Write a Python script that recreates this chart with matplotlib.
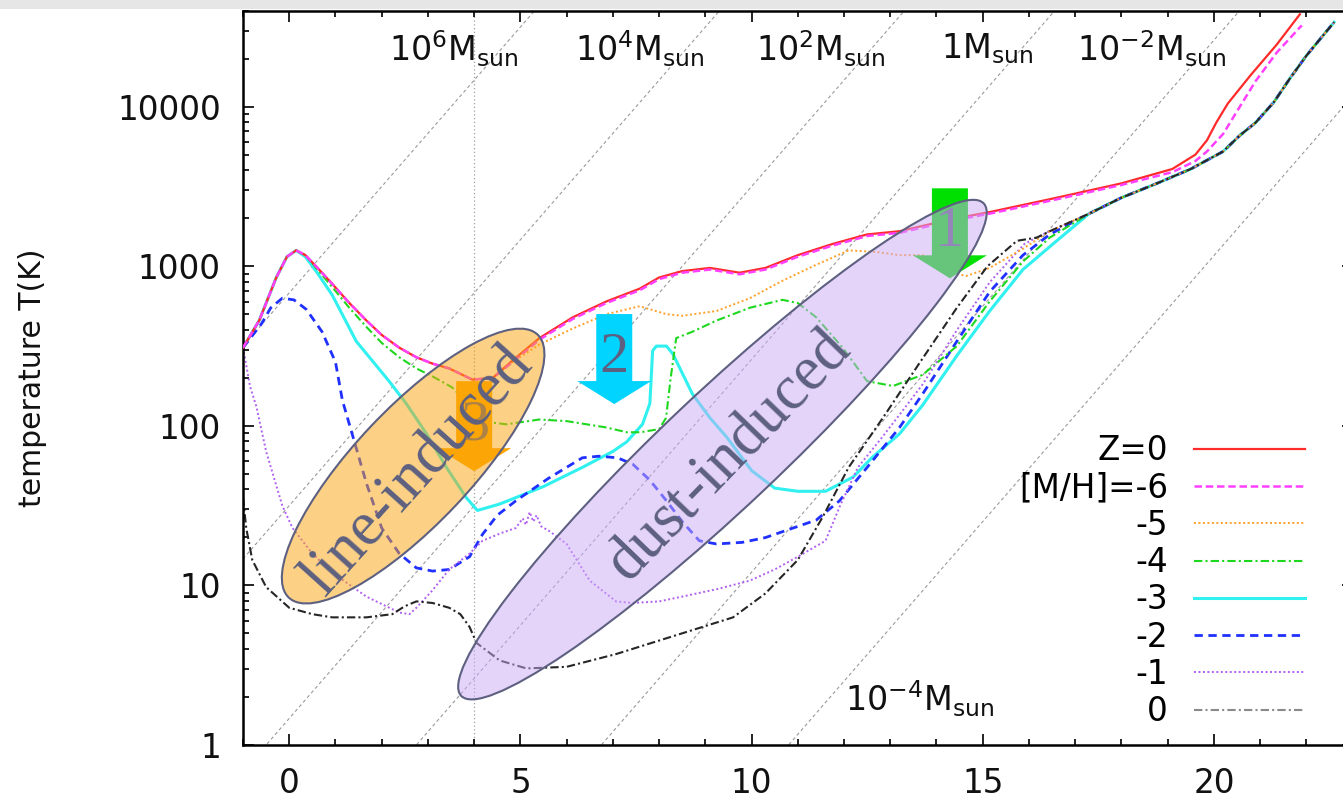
import numpy as np
import matplotlib.pyplot as plt
from matplotlib.patches import Ellipse, Polygon, Rectangle
from matplotlib.transforms import ScaledTranslation
from matplotlib.lines import Line2D
from matplotlib.ticker import MultipleLocator, LogLocator, NullFormatter

plt.rcParams['font.family'] = 'DejaVu Sans'

# log10 n_H (x) vs log10 T for each metallicity; shared high-density tail
x_tail = [17.3, 18.0, 18.77, 19.5, 20.2, 20.56, 20.9, 21.3, 21.65, 22.0, 22.37, 22.6]
lT_tail = [3.33, 3.43, 3.52, 3.61, 3.72, 3.82, 3.9, 4.03, 4.18, 4.32, 4.45, 4.53]

x_z0 = [-1.0, -0.65, -0.28, -0.05, 0.15, 0.35, 0.58, 0.93, 1.3, 1.67, 2.0, 2.38, 2.75, 3.1, 3.46,
        3.96, 4.4, 4.83, 5.41, 6.13, 6.86, 7.58, 8.0, 8.5, 9.1, 9.74, 10.3, 11.0, 11.75, 12.5,
        13.2, 14.4, 15.15, 16.6, 18.0, 19.1, 19.6, 19.85, 20.05, 20.3, 20.8, 21.36, 21.86]
lT_z0 = [2.49, 2.66, 2.93, 3.06, 3.1, 3.07, 3.0, 2.89, 2.77, 2.66, 2.57, 2.49, 2.43, 2.39, 2.36,
         2.29, 2.3, 2.41, 2.55, 2.68, 2.78, 2.86, 2.93, 2.97, 2.99, 2.96, 2.99, 3.07, 3.14, 3.2,
         3.22, 3.3, 3.34, 3.43, 3.52, 3.61, 3.7, 3.79, 3.9, 4.02, 4.2, 4.39, 4.58]

x_m6 = [-1.0, -0.65, -0.28, -0.05, 0.15, 0.35, 0.58, 0.93, 1.3, 1.67, 2.0, 2.38, 2.75, 3.1, 3.46,
        3.96, 4.4, 4.83, 5.41, 6.13, 6.86, 7.58, 8.0, 8.5, 9.1, 9.74, 10.3, 11.0, 11.75, 12.5,
        13.2, 14.4, 15.15, 16.6, 18.0, 19.1, 19.6, 19.85, 20.2, 20.56, 20.9, 21.36, 21.9]
lT_m6 = [2.49, 2.66, 2.93, 3.06, 3.1, 3.07, 3.0, 2.89, 2.77, 2.66, 2.57, 2.49, 2.43, 2.39, 2.36,
         2.29, 2.3, 2.4, 2.54, 2.67, 2.77, 2.85, 2.92, 2.96, 2.98, 2.95, 2.98, 3.06, 3.13, 3.19,
         3.21, 3.29, 3.33, 3.42, 3.51, 3.59, 3.66, 3.72, 3.83, 4.0, 4.16, 4.34, 4.51]

x_m5 = [-1.0, -0.65, -0.28, -0.05, 0.15, 0.35, 0.58, 0.93, 1.3, 1.67, 2.0, 2.38, 2.75, 3.1, 3.46,
        3.96, 4.4, 4.83, 5.41, 6.13, 6.86, 7.58, 8.16, 8.5, 9.24, 9.96, 10.67, 11.4, 12.1, 12.7,
        13.2, 13.7, 14.3, 14.65, 15.15, 15.87, 16.45] + x_tail
lT_m5 = [2.49, 2.66, 2.93, 3.06, 3.1, 3.07, 3.0, 2.89, 2.77, 2.66, 2.57, 2.49, 2.43, 2.39, 2.36,
         2.29, 2.3, 2.4, 2.51, 2.61, 2.7, 2.75, 2.7, 2.69, 2.72, 2.8, 2.91, 3.01, 3.1, 3.09,
         3.07, 3.07, 2.96, 2.94, 2.99, 3.11, 3.22] + lT_tail

x_m4 = [-1.0, -0.65, -0.28, -0.05, 0.15, 0.35, 0.58, 0.93, 1.3, 1.67, 2.0, 2.38, 2.75, 3.1, 3.53,
        3.96, 4.4, 4.7, 5.41, 6.0, 6.86, 7.3, 7.6, 8.0, 8.15, 8.25, 8.37, 8.72, 9.24, 9.96, 10.67,
        11.0, 11.4, 11.97, 12.5, 13.06, 13.7, 14.44, 15.15, 15.87, 16.45] + x_tail
lT_m4 = [2.49, 2.66, 2.93, 3.06, 3.1, 3.07, 2.99, 2.87, 2.74, 2.62, 2.52, 2.43, 2.36, 2.31, 2.24,
         2.11, 2.02, 2.01, 2.04, 2.03, 1.99, 1.96, 1.96, 1.98, 2.05, 2.3, 2.55, 2.59, 2.66, 2.74,
         2.79, 2.77, 2.68, 2.49, 2.28, 2.25, 2.32, 2.5, 2.78, 3.03, 3.18] + lT_tail

x_m3 = [-1.0, -0.65, -0.28, -0.05, 0.15, 0.35, 0.58, 0.93, 1.45, 2.16, 2.53, 2.97, 3.4, 3.83,
        4.07, 4.55, 5.5, 6.34, 7.0, 7.3, 7.64, 7.8, 7.86, 7.94, 8.16, 8.3, 8.72, 9.1, 9.46,
        10.0, 10.5, 11.0, 11.6, 12.2, 12.6, 13.2, 13.7, 14.44, 15.15, 15.87, 16.6] + x_tail
lT_m3 = [2.49, 2.66, 2.93, 3.06, 3.1, 3.06, 2.97, 2.82, 2.53, 2.28, 2.14, 1.95, 1.74, 1.55,
         1.47, 1.51, 1.62, 1.74, 1.84, 1.9, 2.01, 2.14, 2.47, 2.5, 2.5, 2.45, 2.2, 2.05, 1.93,
         1.72, 1.61, 1.59, 1.59, 1.68, 1.8, 1.95, 2.13, 2.44, 2.72, 2.98, 3.16] + lT_tail

x_m2 = [-1.0, -0.6, -0.4, -0.15, 0.1, 0.37, 0.71, 1.0, 1.15, 1.36, 1.67, 2.0, 2.38, 2.75, 3.1,
        3.46, 3.9, 4.18, 4.5, 4.9, 5.6, 6.34, 6.7, 7.1, 7.43, 7.8, 8.16, 8.5, 8.87, 9.24, 9.8,
        10.3, 10.9, 11.4, 11.9, 12.5, 13.2, 13.7, 14.44, 15.15, 15.87, 16.45] + x_tail
lT_m2 = [2.49, 2.64, 2.74, 2.8, 2.79, 2.73, 2.59, 2.4, 2.16, 1.95, 1.64, 1.36, 1.2, 1.11, 1.09,
         1.1, 1.18, 1.32, 1.44, 1.53, 1.67, 1.8, 1.81, 1.8, 1.76, 1.66, 1.53, 1.4, 1.28, 1.26,
         1.27, 1.3, 1.36, 1.41, 1.53, 1.74, 1.99, 2.2, 2.53, 2.84, 3.07, 3.2] + lT_tail

x_m1 = [-1.0, -0.93, -0.85, -0.71, -0.5, -0.15, 0.07, 0.5, 0.93, 1.67, 2.38, 2.6, 2.75, 3.1,
        3.46, 3.9, 4.18, 4.6, 4.9, 5.05, 5.12, 5.2, 5.28, 5.35, 5.45, 5.63, 6.0, 6.5, 7.07, 7.43,
        8.0, 8.5, 9.3, 9.96, 10.5, 11.0, 11.6, 11.9, 12.3, 12.8, 13.2, 13.7, 14.44, 15.15,
        15.9, 16.3] + x_tail
lT_m1 = [2.49, 2.38, 2.25, 2.12, 1.84, 1.5, 1.36, 1.2, 1.08, 0.93, 0.83, 0.82, 0.86, 0.97,
         1.1, 1.2, 1.28, 1.33, 1.36, 1.42, 1.38, 1.46, 1.4, 1.44, 1.37, 1.34, 1.26, 1.03, 0.9, 0.89,
         0.9, 0.93, 0.98, 1.03, 1.1, 1.18, 1.28, 1.49, 1.74, 1.92, 2.07, 2.26, 2.6, 2.9,
         3.14, 3.2] + lT_tail

x_sol = [-1.0, -0.93, -0.8, -0.5, 0.0, 0.5, 0.93, 1.67, 2.23, 2.5, 2.75, 3.1, 3.46, 3.7, 3.9,
         4.05, 4.55, 5.13, 6.0, 7.07, 8.5, 9.6, 10.3, 11.0, 11.54, 12.1, 12.84, 13.6, 14.44,
         15.1, 15.74, 16.17, 16.45] + x_tail
lT_sol = [1.55, 1.36, 1.16, 0.99, 0.86, 0.82, 0.8, 0.8, 0.82, 0.87, 0.9, 0.89, 0.86, 0.82, 0.74,
          0.64, 0.53, 0.48, 0.49, 0.57, 0.7, 0.8, 0.95, 1.16, 1.43, 1.74, 2.05, 2.38, 2.74,
          3.0, 3.16, 3.18, 3.22] + lT_tail

# constant Jeans-mass lines: log T = (x - x0) / 3
jeans_x0 = [-8.5, -4.5, -0.5, 2.75, 6.75, 10.8]
jeans_labels = ['10^6M_{sun}', '10^4M_{sun}', '10^2M_{sun}', '1M_{sun}', '10^{-2}M_{sun}', '10^{-4}M_{sun}']

legend_labels = ['Z=0', '[M/H]=-6', '-5', '-4', '-3', '-2', '-1', '0']

W, H = 1343, 799
fig = plt.figure(figsize=(W / 100, H / 100), dpi=100)
fig.patches.append(Rectangle((0, 1 - 9 / H), 1, 9 / H, transform=fig.transFigure,
                             facecolor='#e6e6e6', edgecolor='none', zorder=-5))
ax = fig.add_axes([243 / W, 54 / H, 1109.6 / W, 734.3 / H])
ax.set_yscale('log')
ax.set_xlim(-1, 23)
ax.set_ylim(1, 4e4)

xs = np.array([-1.0, 23.0])
for x0 in jeans_x0:
    ax.plot(xs, 10 ** ((xs - x0) / 3), color='#9a9a9a', lw=0.8, dashes=(3, 2.5), zorder=1)
ax.axvline(4, color='#a0a0a0', lw=0.9, ls=(0, (1, 2)), zorder=1)

styles = [
    (x_z0, lT_z0, '#ff2a2a', 1.6, None),
    (x_m6, lT_m6, '#ff40ff', 1.8, (3, 1.5)),
    (x_m5, lT_m5, '#ffa028', 1.4, (1, 1.3)),
    (x_m4, lT_m4, '#1ed81e', 1.5, (4, 1.5, 1, 1.5)),
    (x_m3, lT_m3, '#30f0f0', 2.2, None),
    (x_m2, lT_m2, '#2030ff', 2.0, (3, 2)),
    (x_m1, lT_m1, '#b060f0', 1.4, (1, 1.3)),
    (x_sol, lT_sol, '#262626', 1.5, (4, 1.5, 1, 1.5)),
]
draw_order = [4, 5, 3, 6, 2, 7, 0, 1]
for i in draw_order:
    xv, lv, c, lw, dash = styles[i]
    kw = dict(color=c, lw=lw, zorder=2 + 0.1 * draw_order.index(i), solid_joinstyle='round')
    if dash is not None:
        kw['dashes'] = dash
    ax.plot(xv, 10 ** np.array(lv), **kw)

# ticks
ax.xaxis.set_minor_locator(MultipleLocator(1))
ax.set_xticks([0, 5, 10, 15, 20])
ax.set_yticks([1, 10, 100, 1000, 10000], labels=['1', '10', '100', '1000', '10000'])
ax.yaxis.set_minor_locator(LogLocator(base=10, subs=np.arange(2, 10)))
ax.yaxis.set_minor_formatter(NullFormatter())
ax.tick_params(which='both', direction='in', top=True, right=True, width=1.3, labelsize=23.5,
               pad=16, colors='#111111')
ax.tick_params(which='major', length=8)
ax.tick_params(which='minor', length=4.5)
for s in ax.spines.values():
    s.set_linewidth(1.8)
fig.text(33 / W, 1 - 378 / H, 'temperature T(K)', rotation=90, ha='center', va='center',
         fontsize=21.5, color='#111111')

# Jeans mass labels
lab_pos = [(3.57, 2.3e4), (7.58, 2.3e4), (11.5, 2.3e4), (15.1, 2.3e4), (18.66, 2.3e4), (13.64, 1.94)]
for (lx, ly), s in zip(lab_pos, jeans_labels):
    ax.text(lx, ly, r'$\mathregular{' + s + '}$', fontsize=24, ha='center', va='center',
            color='#111111', zorder=3)

ink = '#5d6080'
serif = 'Liberation Serif'


def pix(x, T):
    return fig.dpi_scale_trans + ScaledTranslation(x, T, ax.transData)


def down_arrow(x, T, color, label):
    pts = np.array([[-18, 23], [-18, 90], [18, 90], [18, 23], [37, 23], [0, 0], [-37, 23]]) / 100
    ax.add_patch(Polygon(pts, closed=True, transform=pix(x, T), facecolor=color,
                         edgecolor='none', zorder=4))
    ax.annotate(label, xy=(x, T), xytext=(0, 33), textcoords='offset points', ha='center',
                va='center', fontsize=42, family=serif, color=ink, zorder=4.5)


down_arrow(14.29, 841, '#00e000', '1')
down_arrow(7.03, 137, '#00d4ff', '2')
down_arrow(4.0, 52, '#ffa500', '3')

ax.add_patch(Ellipse((0, 0), 3.62, 1.16, angle=46.6, transform=pix(2.68, 56),
                     facecolor=(0.984, 0.647, 0.05, 0.5), edgecolor=ink, lw=1.5, zorder=5))
ax.add_patch(Ellipse((0, 0), 7.18, 1.16, angle=43.3, transform=pix(9.37, 71),
                     facecolor=(0.80, 0.67, 0.97, 0.5), edgecolor=ink, lw=1.5, zorder=5))
ax.text(2.81, 52, 'line-induced', rotation=48, ha='center', va='center', fontsize=45,
        family=serif, color=ink, zorder=6, rotation_mode='anchor')
ax.text(9.52, 65, 'dust-induced', rotation=46, ha='center', va='center', fontsize=45,
        family=serif, color=ink, zorder=6, rotation_mode='anchor')

# legend
handles = []
for i, (xv, lv, c, lw, dash) in enumerate(styles):
    col = '#8a8a8a' if i == 7 else c
    h = Line2D([], [], color=col, lw=lw)
    if dash is not None:
        h.set_dashes(dash)
    handles.append(h)
leg = ax.legend(handles, legend_labels, loc='upper right', bbox_to_anchor=(0.957, 0.423),
                frameon=False, markerfirst=False, fontsize=23.5, handlelength=3.4,
                handletextpad=0.8, labelspacing=0.13, borderpad=0, borderaxespad=0)
leg.set_zorder(10)

fig.savefig('out.png', dpi=100)
